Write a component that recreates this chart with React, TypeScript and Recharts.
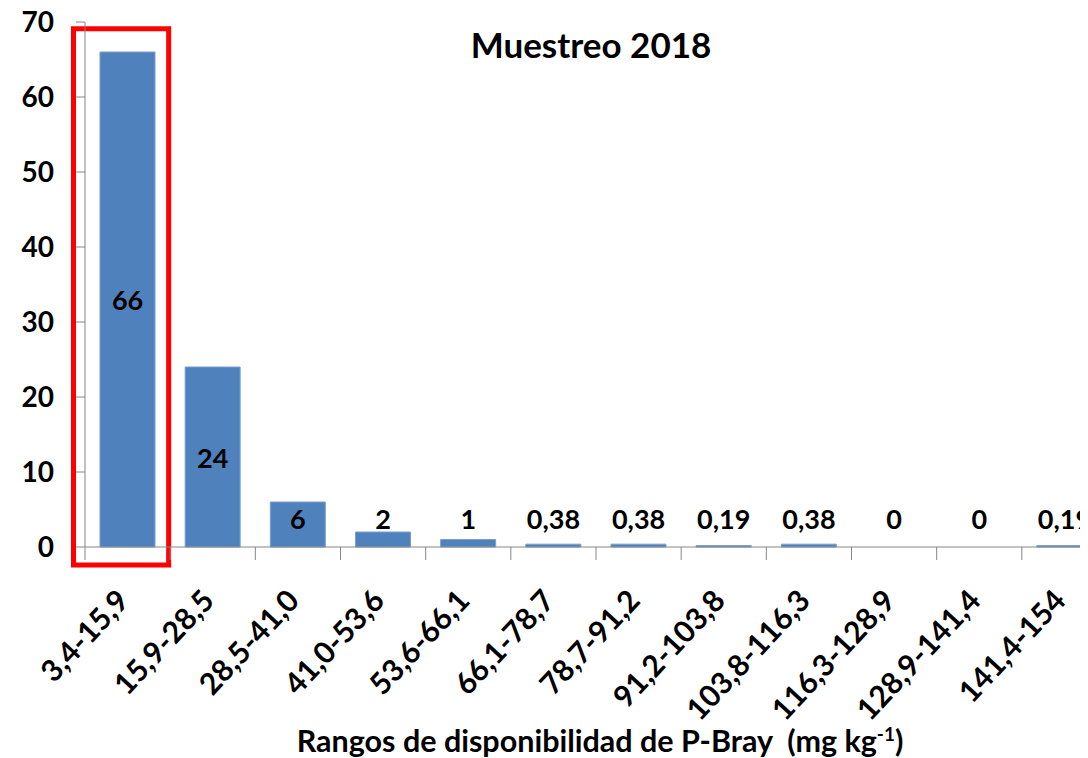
import { Bar, ComposedChart, LabelList, Line, ReferenceArea, XAxis, YAxis } from "recharts";

const rangeLabels = [
  "3,4-15,9",
  "15,9-28,5",
  "28,5-41,0",
  "41,0-53,6",
  "53,6-66,1",
  "66,1-78,7",
  "78,7-91,2",
  "91,2-103,8",
  "103,8-116,3",
  "116,3-128,9",
  "128,9-141,4",
  "141,4-154",
];

const sampleShare = [66, 24, 6, 2, 1, 0.38, 0.38, 0.19, 0.38, 0, 0, 0.19];

const yTicks = [0, 10, 20, 30, 40, 50, 60, 70];

const chartTitle = "Muestreo 2018";
const xTitle = "Rangos de disponibilidad de P-Bray  (mg kg";

const data = rangeLabels.map((range, i) => ({ range, value: sampleShare[i] }));

const CHART_W = 1120;
const CHART_H = 758;
const Y_AXIS_W = 85;
const MARGIN = { top: 22, right: 13, left: 0, bottom: 0 };
const X_AXIS_H = 211;
const BAND = (CHART_W - Y_AXIS_W - MARGIN.left - MARGIN.right) / rangeLabels.length;
const BASELINE_Y = CHART_H - X_AXIS_H - MARGIN.bottom;
const AXIS_GREY = "#868686";
const FONT = "Lato, 'Open Sans', sans-serif";

const formatValue = (v: number) => String(v).replace(".", ",");

// Excel puts the tick marks between categories, so shift each one half a band left
const RangeTick = (props: any) => {
  const { x, y, payload } = props;
  const left = x - BAND / 2;
  return (
    <g>
      <line x1={left} y1={y} x2={left} y2={y + 13} stroke={AXIS_GREY} strokeWidth={1} />
      <text
        transform={`translate(${x + 3},${y + 55}) rotate(-47)`}
        textAnchor="end"
        fontFamily={FONT}
        fontWeight={700}
        fontSize={30}
        fill="#000"
      >
        {payload.value}
      </text>
    </g>
  );
};

// labels hang off an invisible line so the zero ranges get one too;
// tall bars get it in the middle, short ones sit just above the baseline
const ValueLabel = (props: any) => {
  const { x, y, value } = props;
  const cy = Math.min((y + BASELINE_Y) / 2, BASELINE_Y - 29);
  return (
    <text
      x={x}
      y={cy}
      textAnchor="middle"
      dominantBaseline="central"
      fontFamily={FONT}
      fontWeight={700}
      fontSize={27}
      fill="#000"
    >
      {formatValue(Number(value))}
    </text>
  );
};

const HighlightBox = (props: any) => {
  const { x, y, width, height } = props;
  return (
    <rect
      x={x - 11.5}
      y={y}
      width={width + 10}
      height={height}
      fill="none"
      stroke="#ff0000"
      strokeWidth={5}
    />
  );
};

export default function App() {
  return (
    <div
      style={{
        position: "relative",
        width: 1088,
        height: 758,
        margin: "-8px 0 0 -8px",
        overflow: "hidden",
        background: "#fff",
      }}
    >
      <ComposedChart
        width={CHART_W}
        height={CHART_H}
        data={data}
        margin={MARGIN}
        barCategoryGap="17.6%"
      >
        <XAxis
          dataKey="range"
          interval={0}
          height={X_AXIS_H}
          tickLine={false}
          tickSize={0}
          tickMargin={0}
          axisLine={{ stroke: AXIS_GREY, strokeWidth: 1 }}
          tick={<RangeTick />}
        />
        <YAxis
          width={Y_AXIS_W}
          domain={[0, 70]}
          ticks={yTicks}
          interval={0}
          tickSize={9}
          tickMargin={22}
          axisLine={{ stroke: AXIS_GREY, strokeWidth: 1 }}
          tickLine={{ stroke: AXIS_GREY, strokeWidth: 1 }}
          tick={{ fontFamily: FONT, fontWeight: 700, fontSize: 28, fill: "#000" }}
        />
        <Bar dataKey="value" fill="#4f81bd" stroke="#7b9fd0" strokeWidth={1} isAnimationActive={false} />
        <Line
          dataKey="value"
          stroke="none"
          dot={false}
          activeDot={false}
          legendType="none"
          isAnimationActive={false}
        >
          <LabelList dataKey="value" content={<ValueLabel />} />
        </Line>
        <ReferenceArea
          x1={rangeLabels[0]}
          x2={rangeLabels[0]}
          y1={-2.4}
          y2={69.1}
          ifOverflow="visible"
          shape={<HighlightBox />}
        />
      </ComposedChart>
      <svg
        width={1088}
        height={758}
        style={{ position: "absolute", left: 0, top: 0, pointerEvents: "none" }}
      >
        <text x={591} y={58} textAnchor="middle" fontFamily={FONT} fontWeight={700} fontSize={35} fill="#000">
          {chartTitle}
        </text>
        <text
          x={600}
          y={752}
          textAnchor="middle"
          fontFamily={FONT}
          fontWeight={700}
          fontSize={30.5}
          fill="#000"
          style={{ whiteSpace: "pre" }}
        >
          {xTitle}
          <tspan dy={-11} fontSize={19}>-1</tspan>
          <tspan dy={11}>)</tspan>
        </text>
      </svg>
    </div>
  );
}
